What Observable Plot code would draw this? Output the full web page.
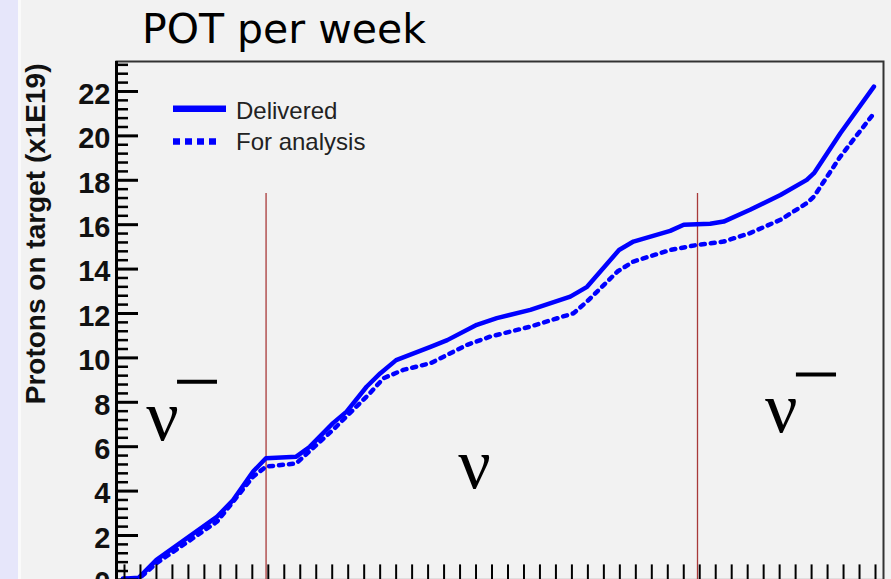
<!DOCTYPE html>
<html>
<head>
<meta charset="utf-8">
<script src="https://cdn.jsdelivr.net/npm/d3@7"></script>
<script src="https://cdn.jsdelivr.net/npm/@observablehq/plot@0.6"></script>
<style>
html, body { margin: 0; padding: 0; }
body { width: 891px; height: 579px; overflow: hidden; background: #f2f2f2; position: relative; font-family: "Liberation Sans", Arial, sans-serif; }
#stripe { position: absolute; left: 0; top: 0; width: 18px; height: 579px; background: #e6e6fa; }
#stripe2 { position: absolute; left: 18px; top: 0; width: 3px; height: 579px; background: #fafafa; }
#title { position: absolute; left: 142px; top: 8.6px; font-family: "DejaVu Sans", sans-serif; font-size: 41px; line-height: 1; color: #000; white-space: nowrap; }
#chart { position: absolute; left: 0; top: 0; }
</style>
</head>
<body>
<div id="stripe"></div>
<div id="stripe2"></div>
<div id="chart"></div>
<div id="title">POT per week</div>
<script>
// ---- data (weeks since start, cumulative POT in 1E19) ----
const weeksDelivered = [0.4, 1.4, 2.5, 6.3, 7.3, 8.55, 9.35, 11.25, 12.1, 13.55, 14.4, 15.65, 16.5, 17.5, 19.65, 20.7, 22.55, 23.8, 25.9, 28.4, 29.45, 31.45, 32.35, 34.65, 35.5, 37.15, 38.0, 39.65, 41.55, 43.2, 43.65, 45.3, 47.4];
const potDelivered   = [0.05, 0.1, 0.9, 2.85, 3.6, 4.88, 5.48, 5.55, 6.0, 7.06, 7.58, 8.7, 9.3, 9.9, 10.5, 10.8, 11.49, 11.79, 12.16, 12.76, 13.2, 14.86, 15.24, 15.72, 16.0, 16.04, 16.14, 16.67, 17.34, 18.02, 18.32, 20.12, 22.22];
const weeksAnalysis  = [0.4, 1.4, 2.5, 6.3, 8.55, 9.35, 11.25, 13.55, 15.85, 16.7, 17.95, 19.65, 21.95, 23.4, 25.9, 28.6, 29.45, 31.35, 32.35, 34.65, 36.35, 38.0, 39.65, 41.55, 43.2, 43.65, 45.3, 47.4];
const potAnalysis    = [0.05, 0.05, 0.75, 2.63, 4.65, 5.1, 5.25, 6.76, 8.4, 9.08, 9.46, 9.76, 10.59, 10.96, 11.41, 12.01, 12.54, 13.89, 14.34, 14.86, 15.09, 15.24, 15.62, 16.22, 16.97, 17.27, 19.07, 21.02];

const seriesNames = ["Delivered", "For analysis"];
const yMajorTicks = [0, 2, 4, 6, 8, 10, 12, 14, 16, 18, 20, 22];
const yMinorTicks = [0.4, 0.8, 1.2, 1.6, 2.4, 2.8, 3.2, 3.6, 4.4, 4.8, 5.2, 5.6, 6.4, 6.8, 7.2, 7.6,
  8.4, 8.8, 9.2, 9.6, 10.4, 10.8, 11.2, 11.6, 12.4, 12.8, 13.2, 13.6, 14.4, 14.8, 15.2, 15.6,
  16.4, 16.8, 17.2, 17.6, 18.4, 18.8, 19.2, 19.6, 20.4, 20.8, 21.2, 21.6, 22.4, 22.8, 23.2];
const xTicks = d3.range(0.5, 48, 1);
const runBoundaries = [9.36, 36.36];
const boundaryTop = 17.4;
const nuLabels = [
  {week: 2.88, pot: 6.28, text: "ν"},
  {week: 22.4, pot: 4.12, text: "ν"},
  {week: 41.6, pot: 6.64, text: "ν"}
];
const nuBars = [
  {from: 3.82, to: 6.32, pot: 8.93},
  {from: 42.55, to: 45.06, pot: 9.25}
];
const yLabel = "Protons on target (x1E19)";

const delivered = weeksDelivered.map((w, i) => ({week: w, pot: potDelivered[i]}));
const analysis = weeksAnalysis.map((w, i) => ({week: w, pot: potAnalysis[i]}));

const blue = "#0000ff";

const chart = Plot.plot({
  width: 891,
  height: 620,
  marginLeft: 116,
  marginRight: 8,
  marginTop: 61,
  marginBottom: 40.6,
  style: {background: "transparent", fontFamily: "Liberation Sans, Arial, sans-serif", overflow: "visible"},
  x: {domain: [0, 48]},
  y: {domain: [0, 23.35]},
  marks: [
    Plot.frame({stroke: "#333", strokeWidth: 2}),
    Plot.ruleX(runBoundaries, {y1: 0, y2: boundaryTop, stroke: "#a83a3a", strokeWidth: 1.3}),
    Plot.line(analysis, {x: "week", y: "pot", stroke: blue, strokeWidth: 4.5, strokeDasharray: "4,6"}),
    Plot.line(delivered, {x: "week", y: "pot", stroke: blue, strokeWidth: 4.5}),
    Plot.axisY(yMinorTicks, {anchor: "left", tickSize: -12, fill: "none", label: null, stroke: "#000", strokeWidth: 2.5}),
    Plot.axisY(yMajorTicks, {anchor: "left", tickSize: -22, fill: "none", label: null, stroke: "#000", strokeWidth: 3}),
    Plot.axisY(yMajorTicks, {anchor: "left", tickSize: 0, tickPadding: 6, fontSize: 29, fontWeight: "bold", label: null, dy: 3, fill: "#111"}),
    Plot.axisX(xTicks, {anchor: "bottom", tickSize: -15, fill: "none", label: null, stroke: "#000", strokeWidth: 2}),
    Plot.ruleX([0], {stroke: "#000", strokeWidth: 3}),
    Plot.ruleY([0], {stroke: "#000", strokeWidth: 2}),
    Plot.text(nuLabels, {x: "week", y: "pot", text: "text", fontFamily: "Liberation Serif, Times New Roman, serif", fontSize: 72, lineAnchor: "bottom", fill: "#000"}),
    Plot.ruleY(nuBars, {x1: "from", x2: "to", y: "pot", stroke: "#000", strokeWidth: 4}),
    Plot.text([yLabel], {frameAnchor: "top-left", rotate: -90, textAnchor: "end", lineAnchor: "middle", dx: -80, dy: 2, fontSize: 28, fontWeight: "bold", fill: "#111"})
  ]
});

// legend (inside the frame, top-left)
const svg = d3.select(chart);
const lg = svg.append("g").attr("class", "legend").attr("text-anchor", "start");
const legendRows = [
  {name: seriesNames[0], dash: null, lineY: 108.7, textY: 119.3, x2: 226},
  {name: seriesNames[1], dash: "7,5", lineY: 141.5, textY: 150, x2: 221}
];
legendRows.forEach(r => {
  lg.append("line")
    .attr("x1", 173).attr("x2", r.x2)
    .attr("y1", r.lineY).attr("y2", r.lineY)
    .attr("stroke", blue).attr("stroke-width", 6.5)
    .attr("stroke-dasharray", r.dash);
  lg.append("text")
    .attr("x", 236).attr("y", r.textY)
    .attr("text-anchor", "start")
    .attr("font-family", "Liberation Sans, Arial, sans-serif")
    .attr("font-size", 24)
    .attr("fill", "#222")
    .text(r.name);
});

document.getElementById("chart").appendChild(chart);
</script>
</body>
</html>
